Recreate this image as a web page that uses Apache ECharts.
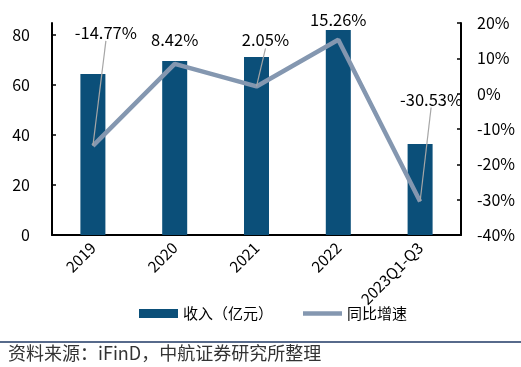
<!DOCTYPE html>
<html><head><meta charset="utf-8">
<script src="https://cdn.jsdelivr.net/npm/echarts@6/dist/echarts.min.js"></script>
<style>html,body{margin:0;padding:0;background:#fff}#c{width:521px;height:367px}</style>
</head><body><div id="c"></div>
<script>
const categories = ['2019', '2020', '2021', '2022', '2023Q1-Q3'];
const revenue = [64.4, 69.6, 71.2, 82.0, 36.4];
const growth = [-14.77, 8.42, 2.05, 15.26, -30.53];
const leftTicks = [0, 20, 40, 60, 80];
const rightTicks = [-40, -30, -20, -10, 0, 10, 20];
const legendNames = ['收入（亿元）', '同比增速'];
const sourceText = '资料来源：iFinD，中航证券研究所整理';

// label placement (layout, not data)
const labelShift = [[13, -100], [0, -11], [9, -33], [0, -7], [11, -89]];
const showLeader = [true, false, true, false, true];

const FONT = '"Noto Sans CJK SC", "Noto Sans", sans-serif';
const chart = echarts.init(document.getElementById('c'), null, {renderer: 'canvas'});
chart.setOption({
  animation: false,
  textStyle: {fontFamily: FONT},
  grid: {left: 52, right: 60, top: 23, bottom: 132},
  legend: {
    top: 301, left: 134, itemGap: 30, itemWidth: 39, itemHeight: 9,
    textStyle: {fontSize: 15, color: '#000', fontFamily: FONT},
    data: [{name: legendNames[0], icon: 'rect'},
           {name: legendNames[1], icon: 'path://M0,0 L40,0 L40,4.5 L0,4.5 Z'}]
  },
  xAxis: {
    type: 'category', data: categories,
    axisLine: {lineStyle: {color: '#000', width: 2}},
    axisTick: {show: false},
    axisLabel: {rotate: 45, fontSize: 15.5, color: '#000', margin: 10, interval: 0}
  },
  yAxis: [{
    type: 'value', min: 0, max: 84.8, interval: 20,
    splitLine: {show: false},
    axisLine: {show: true, lineStyle: {color: '#000', width: 2}},
    axisTick: {show: true, inside: true, length: 4, lineStyle: {color: '#000', width: 1.5}},
    axisLabel: {fontSize: 16, color: '#000', margin: 22, showMaxLabel: false,
      formatter: v => leftTicks.includes(v) ? String(v) : ''}
  }, {
    type: 'value', min: -40, max: 20, interval: 10,
    splitLine: {show: false},
    axisLine: {show: true, lineStyle: {color: '#000', width: 2}},
    axisTick: {show: true, inside: true, length: 4, lineStyle: {color: '#000', width: 1.5}},
    axisLabel: {fontSize: 16, color: '#000', margin: 16,
      formatter: v => rightTicks.includes(v) ? v + '%' : ''}
  }],
  series: [{
    name: legendNames[0], type: 'bar', data: revenue, barWidth: 25,
    itemStyle: {color: '#0B4F79'}
  }, {
    name: legendNames[1], type: 'line', yAxisIndex: 1,
    symbol: 'circle', symbolSize: 0.01, showSymbol: true,
    data: growth.map((v, i) => ({value: v, labelLine: {show: showLeader[i]}})),
    lineStyle: {color: '#8497B0', width: 4.5},
    itemStyle: {color: '#8497B0'},
    label: {show: true, position: 'top', distance: 5, fontSize: 16.5, color: '#000',
      formatter: p => p.value.toFixed(2) + '%'},
    labelLine: {show: true, lineStyle: {color: '#A6A6A6', width: 1.2}},
    labelLayout: p => ({dx: labelShift[p.dataIndex][0], dy: labelShift[p.dataIndex][1]}),
    z: 3
  }],
  graphic: [
    {type: 'line', shape: {x1: 0, y1: 342, x2: 521, y2: 342}, style: {stroke: '#1F3864', lineWidth: 1.5}},
    {type: 'text', left: 8, top: 344, style: {text: sourceText, fontSize: 18, fill: '#333', fontFamily: FONT}}
  ]
});
</script></body></html>
